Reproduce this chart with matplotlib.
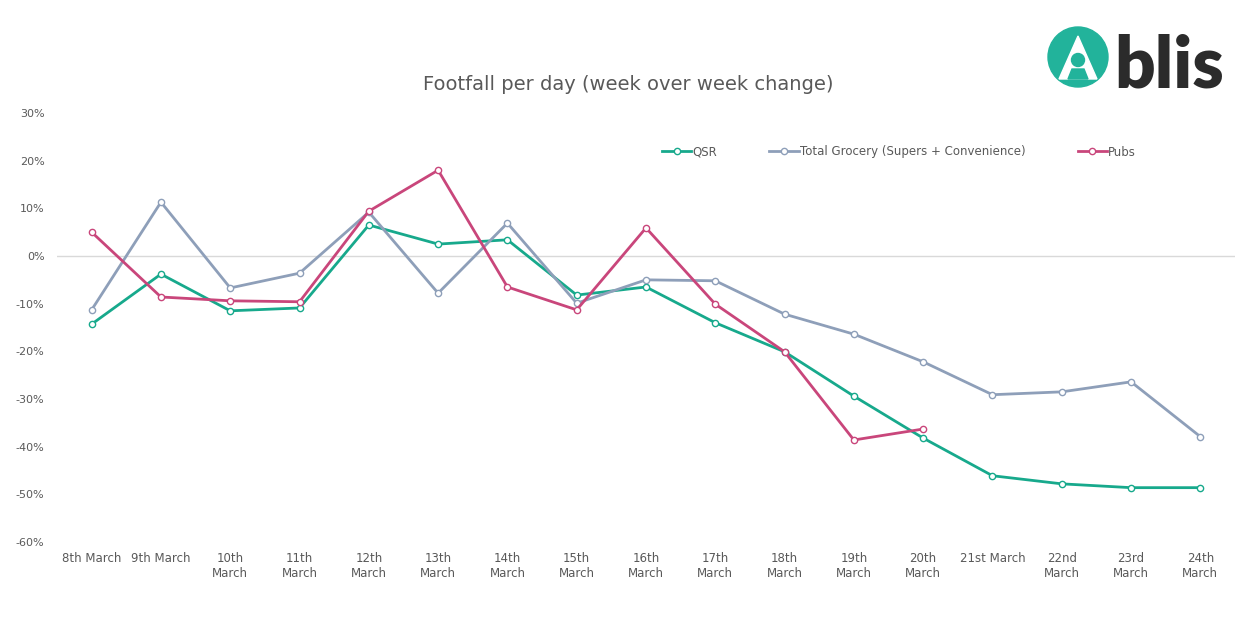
import matplotlib
matplotlib.use("Agg")
import matplotlib.pyplot as plt
from matplotlib.patches import Circle, Polygon
import numpy as np

categories = ["8th March", "9th March", "10th\nMarch", "11th\nMarch", "12th\nMarch",
              "13th\nMarch", "14th\nMarch", "15th\nMarch", "16th\nMarch", "17th\nMarch",
              "18th\nMarch", "19th\nMarch", "20th\nMarch", "21st March", "22nd\nMarch",
              "23rd\nMarch", "24th\nMarch"]

qsr = [-14.3, -3.8, -11.5, -10.9, 6.5, 2.5, 3.4, -8.2, -6.5, -14.0, -20.1, -29.4,
       -38.2, -46.1, -47.8, -48.6, -48.6]
grocery = [-11.3, 11.3, -6.7, -3.6, 9.2, -7.8, 6.9, -9.9, -5.0, -5.2, -12.2, -16.4,
           -22.2, -29.1, -28.5, -26.4, -37.9]
pubs = [5.0, -8.6, -9.4, -9.6, 9.4, 18.0, -6.5, -11.3, 5.9, -10.1, -20.1, -38.6, -36.3]

yticks = [30, 20, 10, 0, -10, -20, -30, -40, -50, -60]
ytick_labels = [f"{v}%" for v in yticks]

series_names = ["QSR", "Total Grocery (Supers + Convenience)", "Pubs"]
colors = ["#17a98c", "#8e9fb9", "#c9467b"]

W, H = 1249, 631
fig = plt.figure(figsize=(W / 100, H / 100), dpi=100)
plt.rcParams['font.family'] = ['DejaVu Sans']

ax = fig.add_axes([57 / W, 1 - 542 / H, (1235 - 57) / W, (542 - 113) / H])
x = np.arange(len(categories))
for name, data, c in zip(series_names, [qsr, grocery, pubs], colors):
    ax.plot(x[:len(data)], data, color=c, lw=2.0, marker='o', markersize=4.5,
            markerfacecolor='white', markeredgecolor=c, markeredgewidth=1.0,
            label=name, zorder=3)

ax.set_xlim(-0.5, len(categories) - 0.5)
ax.set_ylim(-60, 30)
ax.axhline(0, color='#d9d9d9', lw=1.0, zorder=1)
for s in ax.spines.values():
    s.set_visible(False)
ax.set_yticks(yticks)
ax.set_yticklabels(ytick_labels)
ax.set_xticks(x)
ax.set_xticklabels(categories, linespacing=1.25)
ax.tick_params(axis='y', length=0, pad=9, labelsize=8, labelcolor='#595959')
ax.tick_params(axis='x', length=0, pad=7, labelsize=8.5, labelcolor='#595959')

leg = ax.legend(loc='center', bbox_to_anchor=(899 / W, 1 - 152 / H),
                bbox_transform=fig.transFigure, ncol=3, frameon=False,
                fontsize=8.5, handlelength=2.5, handletextpad=0.1, columnspacing=4.4,
                labelcolor='#595959')

fig.text(628 / W, 1 - 85 / H, "Footfall per day (week over week change)",
         ha='center', va='center', fontsize=14, color='#595959')

# logo
cx, cy, r = 1078, 57, 30
logo_ax = fig.add_axes([0, 0, 1, 1], facecolor='none')
logo_ax.set_xlim(0, W)
logo_ax.set_ylim(H, 0)
logo_ax.axis('off')
teal = "#22b39b"
logo_ax.add_patch(Circle((cx, cy), r, color=teal))
logo_ax.add_patch(Polygon([(cx, 36), (cx - 19, 79), (cx + 19, 79)], closed=True, color='white'))
logo_ax.add_patch(Circle((cx, 60), 6.5, color=teal))
logo_ax.add_patch(Polygon([(cx - 10, 79), (cx - 6, 69), (cx + 6, 69), (cx + 10, 79)],
                          closed=True, color=teal))
logo_ax.text(1114, 87, "blis", fontsize=51, fontweight='heavy', family='Lato',
             color='#2b2b2b', ha='left', va='baseline')

fig.savefig("out.png", dpi=100)
